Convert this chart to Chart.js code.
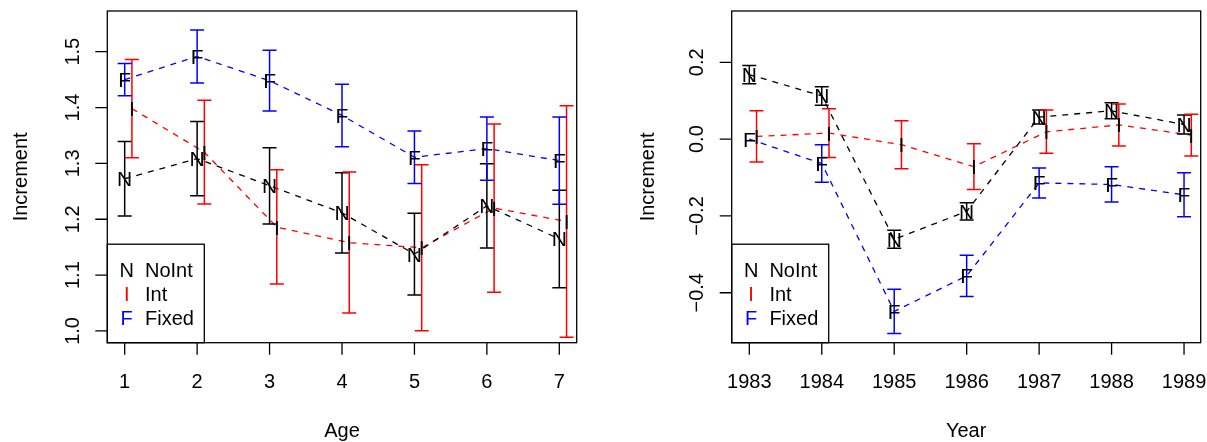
<!DOCTYPE html>
<html><head><meta charset="utf-8">
<script src="https://cdn.jsdelivr.net/npm/chart.js@4.4.1/dist/chart.umd.min.js"></script>
<style>
html,body{margin:0;padding:0;background:#fff;width:1207px;height:442px;overflow:hidden}
canvas{position:absolute;top:0}
#c1{left:0px}
#c2{left:603px}
</style></head><body>
<canvas id="c1" width="603" height="442"></canvas>
<canvas id="c2" width="604" height="442"></canvas>
<script>
// ---------- data ----------
const ages = [1, 2, 3, 4, 5, 6, 7];
const ageNoInt   = [1.2725, 1.3085, 1.260, 1.2115, 1.1376, 1.224, 1.1647];
const ageNoIntLo = [1.206, 1.242, 1.1915, 1.1396, 1.0644, 1.1486, 1.0775];
const ageNoIntHi = [1.339, 1.375, 1.328, 1.2834, 1.2107, 1.2995, 1.2518];
const ageInt     = [1.398, 1.320, 1.186, 1.158, 1.149, 1.220, 1.196];
const ageIntLo   = [1.310, 1.2273, 1.084, 1.0322, 1.0005, 1.0693, 0.9887];
const ageIntHi   = [1.486, 1.413, 1.2887, 1.2846, 1.2977, 1.3705, 1.403];
const ageFixed   = [1.450, 1.4915, 1.448, 1.386, 1.311, 1.3265, 1.305];
const ageFixedLo = [1.421, 1.444, 1.394, 1.330, 1.264, 1.270, 1.227];
const ageFixedHi = [1.479, 1.539, 1.5026, 1.4415, 1.358, 1.383, 1.383];
const ageYTicks = [1.0, 1.1, 1.2, 1.3, 1.4, 1.5];
const ageYTickLabels = ['1.0', '1.1', '1.2', '1.3', '1.4', '1.5'];
const ageXTickLabels = ['1', '2', '3', '4', '5', '6', '7'];

const years = [1983, 1984, 1985, 1986, 1987, 1988, 1989];
const yrNoInt   = [0.168, 0.1126, -0.2608, -0.188, 0.0576, 0.0737, 0.038];
const yrNoIntLo = [0.144, 0.0885, -0.2844, -0.2107, 0.0393, 0.0529, 0.0133];
const yrNoIntHi = [0.192, 0.1367, -0.2372, -0.1656, 0.0758, 0.0945, 0.0628];
const yrInt     = [0.007, 0.0158, -0.0146, -0.0716, 0.019, 0.037, 0.0106];
const yrIntLo   = [-0.0597, -0.0477, -0.077, -0.131, -0.037, -0.018, -0.044];
const yrIntHi   = [0.074, 0.079, 0.048, -0.012, 0.0758, 0.0914, 0.065];
const yrFixed   = [0.0, -0.0635, -0.4486, -0.356, -0.114, -0.118, -0.145];
const yrFixedLo = [0.0, -0.1125, -0.506, -0.410, -0.153, -0.164, -0.202];
const yrFixedHi = [0.0, -0.0146, -0.391, -0.302, -0.0753, -0.072, -0.0875];
const yrYTicks = [-0.4, -0.2, 0.0, 0.2];
const yrYTickLabels = ['\u22120.4', '\u22120.2', '0.0', '0.2'];
const yrXTickLabels = ['1983', '1984', '1985', '1986', '1987', '1988', '1989'];

const seriesNames = ['NoInt', 'Int', 'Fixed'];
const seriesSymbols = ['N', 'I', 'F'];
const seriesColors = ['#000000', '#ff0000', '#0000ff'];
const intOffset = 0.1;

// ---------- drawing helpers ----------
const FS = 20;
const FAMILY = '"Liberation Sans", Arial, Helvetica, sans-serif';
const FONT = FS + 'px ' + FAMILY;
const CAP = FS * 0.716;
const PFS = 21;
const PFONT = PFS + 'px ' + FAMILY;
const PCAP = PFS * 0.716;

function rPlugin(p) {
  return {
    id: 'rbase',
    afterDatasetsDraw(chart) {
      const ctx = chart.ctx, ys = chart.scales.y;
      ctx.save();
      ctx.setLineDash([]);
      chart.data.datasets.forEach((ds, di) => {
        const meta = chart.getDatasetMeta(di);
        ctx.strokeStyle = ds.borderColor;
        ctx.lineWidth = 1.5;
        meta.data.forEach((pt, i) => {
          const lo = ds.errLo[i], hi = ds.errHi[i];
          if (lo === hi) return;
          const x = pt.x, y1 = ys.getPixelForValue(lo), y2 = ys.getPixelForValue(hi);
          ctx.beginPath();
          ctx.moveTo(x, y1); ctx.lineTo(x, y2);
          ctx.moveTo(x - 7, y1); ctx.lineTo(x + 7, y1);
          ctx.moveTo(x - 7, y2); ctx.lineTo(x + 7, y2);
          ctx.stroke();
        });
      });
      ctx.fillStyle = '#000';
      ctx.font = PFONT;
      ctx.textAlign = 'center';
      ctx.textBaseline = 'alphabetic';
      chart.data.datasets.forEach((ds, di) => {
        const meta = chart.getDatasetMeta(di);
        meta.data.forEach(pt => ctx.fillText(ds.symbol, pt.x, pt.y + PCAP / 2));
      });
      ctx.restore();
    },
    afterDraw(chart) {
      const ctx = chart.ctx, xs = chart.scales.x, ys = chart.scales.y, a = chart.chartArea;
      ctx.save();
      ctx.setLineDash([]);
      ctx.strokeStyle = '#000';
      ctx.lineWidth = 1.3;
      // legend (bottom-left)
      const lw = 97, lt = a.bottom - 98.5;
      ctx.fillStyle = '#fff';
      ctx.fillRect(a.left, lt, lw, a.bottom - lt);
      ctx.strokeRect(a.left, lt, lw, a.bottom - lt);
      ctx.font = FONT;
      ctx.textBaseline = 'alphabetic';
      for (let k = 0; k < 3; k++) {
        const cy = lt + 25.5 + k * 24.3;
        ctx.textAlign = 'center';
        ctx.fillStyle = seriesColors[k];
        ctx.fillText(seriesSymbols[k], a.left + 19.4, cy + CAP / 2);
        ctx.textAlign = 'left';
        ctx.fillStyle = '#000';
        ctx.fillText(seriesNames[k], a.left + 37.7, cy + CAP / 2);
      }
      // box
      ctx.strokeRect(a.left, a.top, a.right - a.left, a.bottom - a.top);
      // ticks
      ctx.beginPath();
      p.xTicks.forEach(v => {
        const x = xs.getPixelForValue(v);
        ctx.moveTo(x, a.bottom); ctx.lineTo(x, a.bottom + 12);
      });
      p.yTicks.forEach(v => {
        const y = ys.getPixelForValue(v);
        ctx.moveTo(a.left, y); ctx.lineTo(a.left - 12, y);
      });
      ctx.stroke();
      // tick labels
      ctx.fillStyle = '#000';
      ctx.textAlign = 'center';
      p.xTicks.forEach((v, i) => {
        ctx.fillText(p.xLabels[i], xs.getPixelForValue(v), 381 + CAP / 2);
      });
      p.yTicks.forEach((v, i) => {
        ctx.save();
        ctx.translate(a.left - 35.5, ys.getPixelForValue(v));
        ctx.rotate(-Math.PI / 2);
        ctx.fillText(p.yLabels[i], 0, CAP / 2);
        ctx.restore();
      });
      // titles
      ctx.fillText(p.xTitle, (a.left + a.right) / 2, 429.7 + CAP / 2);
      ctx.save();
      ctx.translate(a.left - p.yTitleDist, (a.top + a.bottom) / 2);
      ctx.rotate(-Math.PI / 2);
      ctx.fillText(p.yTitle, 0, CAP / 2);
      ctx.restore();
      ctx.restore();
    }
  };
}

function makeChart(id, p) {
  const mk = (k, vals, lo, hi, off) => ({
    label: seriesNames[k],
    symbol: seriesSymbols[k],
    data: p.xs.map((x, i) => ({ x: x + off, y: vals[i] })),
    errLo: lo, errHi: hi,
    borderColor: seriesColors[k],
    borderWidth: 1.3,
    borderDash: [6, 6],
    pointRadius: 0,
    pointHoverRadius: 0,
    fill: false,
    tension: 0
  });
  const canvas = document.getElementById(id);
  const W = canvas.width, H = canvas.height;
  return new Chart(canvas, {
    type: 'line',
    data: {
      datasets: [
        mk(0, p.n, p.nLo, p.nHi, 0),
        mk(1, p.i, p.iLo, p.iHi, intOffset),
        mk(2, p.f, p.fLo, p.fHi, 0)
      ]
    },
    options: {
      responsive: false,
      animation: false,
      devicePixelRatio: 1,
      events: [],
      layout: { padding: { left: 0, top: 11, right: W - p.right, bottom: 0 } },
      plugins: { legend: { display: false }, tooltip: { enabled: false } },
      scales: {
        x: {
          type: 'linear', min: p.xMin, max: p.xMax,
          ticks: { display: false }, grid: { display: false }, border: { display: false },
          afterFit: s => { s.height = H - 342.7; }
        },
        y: {
          type: 'linear', min: p.yMin, max: p.yMax,
          ticks: { display: false }, grid: { display: false }, border: { display: false },
          afterFit: s => { s.width = p.left; }
        }
      }
    },
    plugins: [rPlugin(p)]
  });
}

makeChart('c1', {
  xs: ages, n: ageNoInt, nLo: ageNoIntLo, nHi: ageNoIntHi,
  i: ageInt, iLo: ageIntLo, iHi: ageIntHi,
  f: ageFixed, fLo: ageFixedLo, fHi: ageFixedHi,
  xMin: 0.76, xMax: 7.24, yMin: 0.979, yMax: 1.5728,
  left: 107.3, right: 576.7,
  xTicks: ages, xLabels: ageXTickLabels, yTicks: ageYTicks, yLabels: ageYTickLabels,
  xTitle: 'Age', yTitle: 'Increment', yTitleDist: 87.3
});

makeChart('c2', {
  xs: years, n: yrNoInt, nLo: yrNoIntLo, nHi: yrNoIntHi,
  i: yrInt, iLo: yrIntLo, iHi: yrIntHi,
  f: yrFixed, fLo: yrFixedLo, fHi: yrFixedHi,
  xMin: 1982.757, xMax: 1989.23, yMin: -0.530, yMax: 0.3336,
  left: 128.7, right: 597.7,
  xTicks: years, xLabels: yrXTickLabels, yTicks: yrYTicks, yLabels: yrYTickLabels,
  xTitle: 'Year', yTitle: 'Increment', yTitleDist: 84.7
});
</script>
</body></html>
